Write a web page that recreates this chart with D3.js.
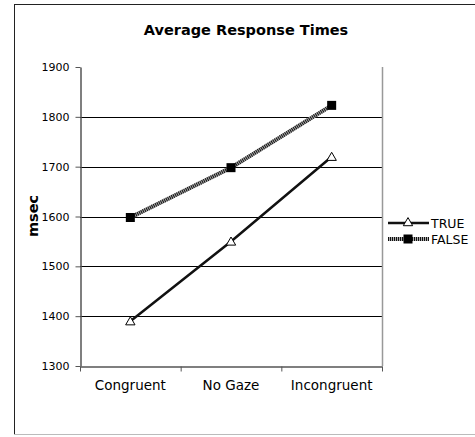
<!DOCTYPE html>
<html>
<head>
<meta charset="utf-8">
<script src="https://cdn.jsdelivr.net/npm/d3@7"></script>
<style>
  body { margin: 0; background: #fff; }
  text { font-family: "DejaVu Sans", Verdana, sans-serif; fill: #000; }
</style>
</head>
<body>
<div id="chart"></div>
<script>
const categories = ["Congruent", "No Gaze", "Incongruent"];
const trueValues = [1390, 1550, 1720];
const falseValues = [1598, 1698, 1823];
const yTicks = [1300, 1400, 1500, 1600, 1700, 1800, 1900];
const seriesNames = ["TRUE", "FALSE"];

const W = 475, H = 437;
const plot = { left: 80, right: 382, top: 67, bottom: 366 };

const svg = d3.select("#chart").append("svg")
  .attr("width", W).attr("height", H);

// outer frame
svg.append("rect")
  .attr("x", 14.5).attr("y", 4.5)
  .attr("width", 470).attr("height", 430)
  .attr("fill", "#fff").attr("stroke", "#222").attr("stroke-width", 1);
svg.append("line")
  .attr("x1", 14).attr("x2", W).attr("y1", 434.5).attr("y2", 434.5)
  .attr("stroke", "#bbb");

const x = d3.scaleBand().domain(categories).range([plot.left, plot.right]);
const y = d3.scaleLinear().domain([1300, 1900]).range([plot.bottom, plot.top]);

// gridlines
svg.append("g").selectAll("line")
  .data(yTicks.filter(t => t > 1300 && t < 1900))
  .enter().append("line")
  .attr("x1", plot.left).attr("x2", plot.right)
  .attr("y1", d => Math.round(y(d)) + 0.5).attr("y2", d => Math.round(y(d)) + 0.5)
  .attr("stroke", "#000").attr("stroke-width", 1);

// right plot border
svg.append("line")
  .attr("x1", plot.right + 0.5).attr("x2", plot.right + 0.5)
  .attr("y1", plot.top).attr("y2", plot.bottom)
  .attr("stroke", "#999").attr("stroke-width", 1.5);

// y axis
const yAxis = svg.append("g")
  .attr("transform", `translate(${plot.left + 0.5},0)`)
  .call(d3.axisLeft(y).tickValues(yTicks).tickFormat(d3.format("d"))
    .tickSize(5).tickPadding(6).tickSizeOuter(0));
yAxis.select(".domain").attr("stroke", "#555").attr("stroke-width", 1.5);
yAxis.selectAll(".tick line").attr("stroke", "#555");
yAxis.selectAll("text").style("font-size", "11px").attr("fill", "#000");

// x axis
const xAxis = svg.append("g")
  .attr("transform", `translate(0,${plot.bottom + 0.5})`)
  .call(d3.axisBottom(x).tickSize(0).tickPadding(14).tickSizeOuter(0));
xAxis.select(".domain").attr("stroke", "#555").attr("stroke-width", 1.5);
xAxis.selectAll("text").style("font-size", "13.5px").attr("fill", "#000");
// category boundary ticks
const bounds = categories.map(c => x(c)).concat([plot.right]);
xAxis.selectAll(".bound").data(bounds).enter().append("line")
  .attr("x1", d => d + 0.5).attr("x2", d => d + 0.5)
  .attr("y1", 0).attr("y2", 5)
  .attr("stroke", "#555");

// title
svg.append("text")
  .attr("x", 246).attr("y", 35)
  .attr("text-anchor", "middle")
  .style("font-size", "14.5px").style("font-weight", "bold")
  .text("Average Response Times");

// y label
svg.append("text")
  .attr("transform", `translate(38,216) rotate(-90)`)
  .attr("text-anchor", "middle")
  .style("font-size", "14.5px").style("font-weight", "bold")
  .text("msec");

const cx = c => x(c) + x.bandwidth() / 2;
const line = d3.line().x((d, i) => cx(categories[i])).y(d => y(d));

// FALSE series: hatched thick line
svg.append("path")
  .datum(falseValues)
  .attr("d", line)
  .attr("fill", "none")
  .attr("stroke", "#aaa").attr("stroke-width", 4);
svg.append("path")
  .datum(falseValues)
  .attr("d", line)
  .attr("fill", "none")
  .attr("stroke", "#111").attr("stroke-width", 4)
  .attr("stroke-dasharray", "1,1");

// TRUE series: solid line
svg.append("path")
  .datum(trueValues)
  .attr("d", line)
  .attr("fill", "none")
  .attr("stroke", "#111").attr("stroke-width", 2.5);

const tri = d3.symbol().type(d3.symbolTriangle).size(38);

function drawTriangle(g, px, py) {
  g.append("path")
    .attr("d", tri())
    .attr("transform", `translate(${px},${py + 1})`)
    .attr("fill", "#fff").attr("stroke", "#000").attr("stroke-width", 1);
}
function drawSquare(g, px, py) {
  g.append("rect")
    .attr("x", px - 4.5).attr("y", py - 4.5)
    .attr("width", 9).attr("height", 9)
    .attr("fill", "#000");
}

const markers = svg.append("g");
trueValues.forEach((v, i) => drawTriangle(markers, cx(categories[i]), y(v)));
falseValues.forEach((v, i) => drawSquare(markers, cx(categories[i]), y(v)));

// legend
const legend = svg.append("g");
const ly = [223, 239];
seriesNames.forEach((name, i) => {
  const yy = ly[i];
  if (i === 0) {
    legend.append("line")
      .attr("x1", 388).attr("x2", 429).attr("y1", yy).attr("y2", yy)
      .attr("stroke", "#111").attr("stroke-width", 2.5);
    drawTriangle(legend, 408, yy - 1);
  } else {
    legend.append("line")
      .attr("x1", 388).attr("x2", 429).attr("y1", yy).attr("y2", yy)
      .attr("stroke", "#aaa").attr("stroke-width", 4);
    legend.append("line")
      .attr("x1", 388).attr("x2", 429).attr("y1", yy).attr("y2", yy)
      .attr("stroke", "#111").attr("stroke-width", 4)
      .attr("stroke-dasharray", "1,1");
    drawSquare(legend, 408, yy);
  }
  legend.append("text")
    .attr("x", 431).attr("y", yy + 4.5)
    .style("font-size", "12.5px")
    .text(name);
});
</script>
</body>
</html>
